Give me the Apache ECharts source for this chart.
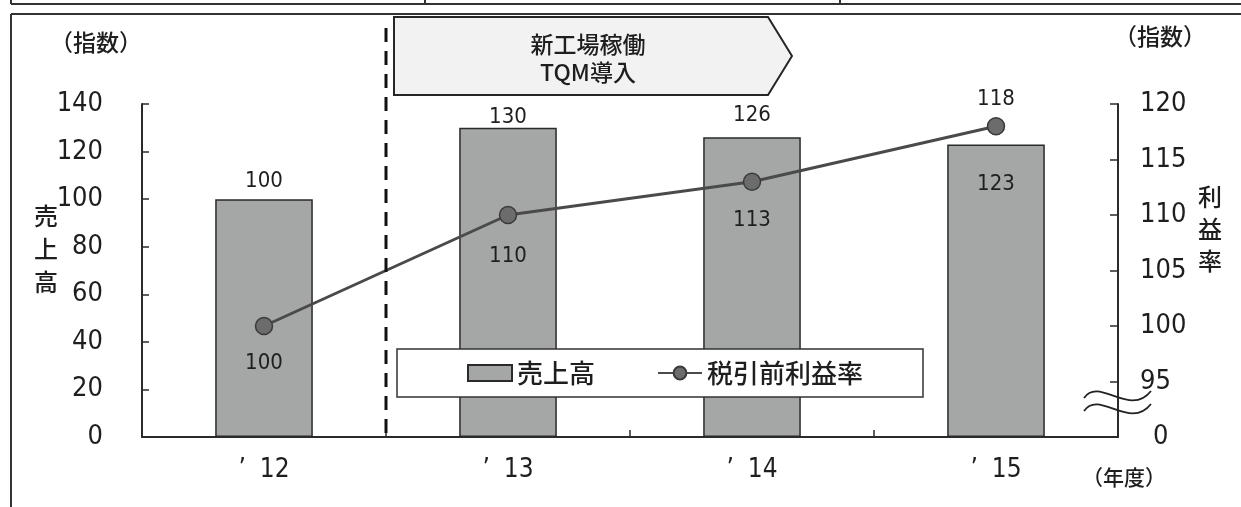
<!DOCTYPE html>
<html>
<head>
<meta charset="utf-8">
<script src="https://cdn.jsdelivr.net/npm/echarts@6/dist/echarts.min.js"></script>
<style>
  html, body { margin: 0; padding: 0; background: #fff; }
  #chart { width: 1241px; height: 507px; }
</style>
</head>
<body>
<div id="chart"></div>
<script>
// Fiscal years (shown as ’12 … ’15)
const years = ['12', '13', '14', '15'];
// 売上高 (index)
const sales = [100, 130, 126, 123];
// 税引前利益率 (index)
const profitRate = [100, 110, 113, 118];
// Left axis: 0–140 by 20
const salesTicks = { min: 0, max: 140, step: 20 };
// Right axis: broken scale, bottom tick reads 0, then 95–120 by 5
const rateTicks = { min: 90, max: 120, step: 5 };

const NUM = '"Liberation Sans Narrow","DejaVu Sans Condensed",sans-serif';
const JP = '"Noto Sans CJK JP",sans-serif';
const INK = '#1e1e1e';
const AXIS = '#2b2b2b';

// label placement per point (style only)
const barLabelPlace = [
  { position: 'top', distance: 7 },
  { position: 'top', distance: 0 },
  { position: 'top', distance: 11 },
  { position: 'insideTop', distance: 29 }
];
const lineLabelPlace = [
  { position: 'bottom', distance: 17 },
  { position: 'bottom', distance: 21 },
  { position: 'bottom', distance: 18 },
  { position: 'top', distance: 7 }
];

const chart = echarts.init(document.getElementById('chart'), null, { renderer: 'canvas' });

function txt(text, x, y, size, extra) {
  return Object.assign({
    type: 'text', x: x, y: y, z: 20,
    style: { text: text, font: '500 ' + size + 'px ' + JP, fill: INK, align: 'center', verticalAlign: 'middle' }
  }, extra || {});
}

const frame = [
  { type: 'line', shape: { x1: 11, y1: 4, x2: 1241, y2: 4 }, style: { stroke: '#333', lineWidth: 2 } },
  { type: 'line', shape: { x1: 11, y1: 0, x2: 11, y2: 4 }, style: { stroke: '#333', lineWidth: 2 } },
  { type: 'line', shape: { x1: 425, y1: 0, x2: 425, y2: 4 }, style: { stroke: '#333', lineWidth: 2 } },
  { type: 'line', shape: { x1: 840, y1: 0, x2: 840, y2: 4 }, style: { stroke: '#333', lineWidth: 2 } },
  { type: 'line', shape: { x1: 11, y1: 14, x2: 1241, y2: 14 }, style: { stroke: '#333', lineWidth: 2 } },
  { type: 'line', shape: { x1: 11, y1: 14, x2: 11, y2: 507 }, style: { stroke: '#333', lineWidth: 2 } }
];

const annotations = [
  // event arrow
  {
    type: 'polygon', z: 10,
    shape: { points: [[394, 17], [768, 17], [792, 56], [768, 95], [394, 95]] },
    style: { fill: '#f2f2f2', stroke: '#262626', lineWidth: 2 }
  },
  {
    type: 'text', x: 588, y: 58, z: 11,
    style: { text: '新工場稼働\nTQM導入', font: '500 23px ' + JP, lineHeight: 28, fill: INK, align: 'center', verticalAlign: 'middle' }
  },
  txt('（指数）', 96, 42, 23),
  txt('（指数）', 1160, 36, 23),
  txt('（年度）', 1124, 477, 21),
  {
    type: 'text', x: 46, y: 249, z: 20,
    style: { text: '売\n上\n高', font: '500 24px ' + JP, lineHeight: 33, fill: INK, align: 'center', verticalAlign: 'middle' }
  },
  {
    type: 'text', x: 1210, y: 229, z: 20,
    style: { text: '利\n益\n率', font: '500 24px ' + JP, lineHeight: 32, fill: INK, align: 'center', verticalAlign: 'middle' }
  },
  // break marks on the right axis
  {
    type: 'bezierCurve', z: 20,
    shape: { x1: 1084, y1: 398, cpx1: 1099, cpy1: 376, cpx2: 1130, cpy2: 418, x2: 1151, y2: 391 },
    style: { stroke: '#222', lineWidth: 1.8, fill: null }
  },
  {
    type: 'bezierCurve', z: 20,
    shape: { x1: 1084, y1: 411, cpx1: 1099, cpy1: 389, cpx2: 1130, cpy2: 431, x2: 1151, y2: 404 },
    style: { stroke: '#222', lineWidth: 1.8, fill: null }
  }
];

const option = {
  animation: false,
  backgroundColor: '#fff',
  grid: { left: 142, right: 123, top: 104, bottom: 70, containLabel: false },
  legend: {
    left: 397, top: 349,
    orient: 'horizontal',
    backgroundColor: '#fff',
    borderColor: '#333', borderWidth: 1.5, borderRadius: 0,
    padding: [11, 60, 11, 70],
    itemWidth: 44, itemHeight: 16, itemGap: 62,
    textStyle: { fontFamily: JP, fontSize: 26, fontWeight: 500, color: INK },
    data: [{ name: '売上高', icon: 'rect' }, { name: '税引前利益率' }],
    z: 8
  },
  xAxis: {
    type: 'category',
    data: years,
    boundaryGap: true,
    axisLine: { lineStyle: { color: AXIS, width: 2 } },
    axisTick: { show: true, inside: true, length: 7, lineStyle: { color: AXIS, width: 1.5 } },
    axisLabel: {
      margin: 20,
      formatter: v => '{q|’}{n|' + v + '}',
      rich: {
        q: { fontFamily: NUM, fontSize: 26, color: INK, padding: [0, 14, 0, 0] },
        n: { fontFamily: NUM, fontSize: 26, color: INK }
      }
    },
    splitLine: { show: false }
  },
  yAxis: [
    {
      type: 'value', position: 'left',
      min: salesTicks.min, max: salesTicks.max, interval: salesTicks.step,
      axisLine: { show: true, lineStyle: { color: AXIS, width: 2 } },
      axisTick: { show: true, inside: true, length: 7, lineStyle: { color: AXIS, width: 1.5 } },
      axisLabel: { margin: 39, fontFamily: NUM, fontSize: 27, color: INK },
      splitLine: { show: false }
    },
    {
      type: 'value', position: 'right',
      min: rateTicks.min, max: rateTicks.max, interval: rateTicks.step,
      axisLine: { show: true, lineStyle: { color: AXIS, width: 2 } },
      axisTick: { show: true, inside: true, length: 8, lineStyle: { color: AXIS, width: 1.5 } },
      axisLabel: {
        margin: 22,
        formatter: v => (v === rateTicks.min ? '{z|0}' : '{n|' + v + '}'),
        rich: {
          n: { fontFamily: NUM, fontSize: 27, color: INK },
          z: { fontFamily: NUM, fontSize: 27, color: INK, padding: [0, 0, 0, 13] }
        }
      },
      splitLine: { show: false }
    }
  ],
  series: [
    {
      name: '売上高',
      type: 'bar',
      yAxisIndex: 0,
      barWidth: '40%',
      itemStyle: { color: '#a5a7a6', borderColor: '#2a2a2a', borderWidth: 1.5 },
      label: { show: true, fontFamily: NUM, fontSize: 22, color: INK },
      data: sales.map((v, i) => ({ value: v, label: barLabelPlace[i] })),
      z: 2
    },
    {
      name: '税引前利益率',
      type: 'line',
      yAxisIndex: 1,
      symbol: 'circle',
      symbolSize: 17,
      lineStyle: { color: '#4a4a4a', width: 3 },
      itemStyle: { color: '#6c6c6c', borderColor: '#3a3a3a', borderWidth: 1.5 },
      label: { show: true, fontFamily: NUM, fontSize: 22, color: INK },
      data: profitRate.map((v, i) => ({ value: v, label: lineLabelPlace[i] })),
      z: 5
    }
  ],
  graphic: frame.concat(annotations)
};

chart.setOption(option);

// dashed divider on the boundary between the first two fiscal years
const c0 = chart.convertToPixel({ xAxisIndex: 0 }, 0);
const c1 = chart.convertToPixel({ xAxisIndex: 0 }, 1);
const base = chart.convertToPixel({ yAxisIndex: 0 }, 0);
const divX = Math.round((c0 + c1) / 2);
chart.setOption({
  graphic: frame.concat(annotations, [{
    type: 'line', z: 9,
    shape: { x1: divX, y1: 28, x2: divX, y2: base },
    style: { stroke: '#111', lineWidth: 3, lineDash: [14, 9] }
  }])
});
</script>
</body>
</html>
